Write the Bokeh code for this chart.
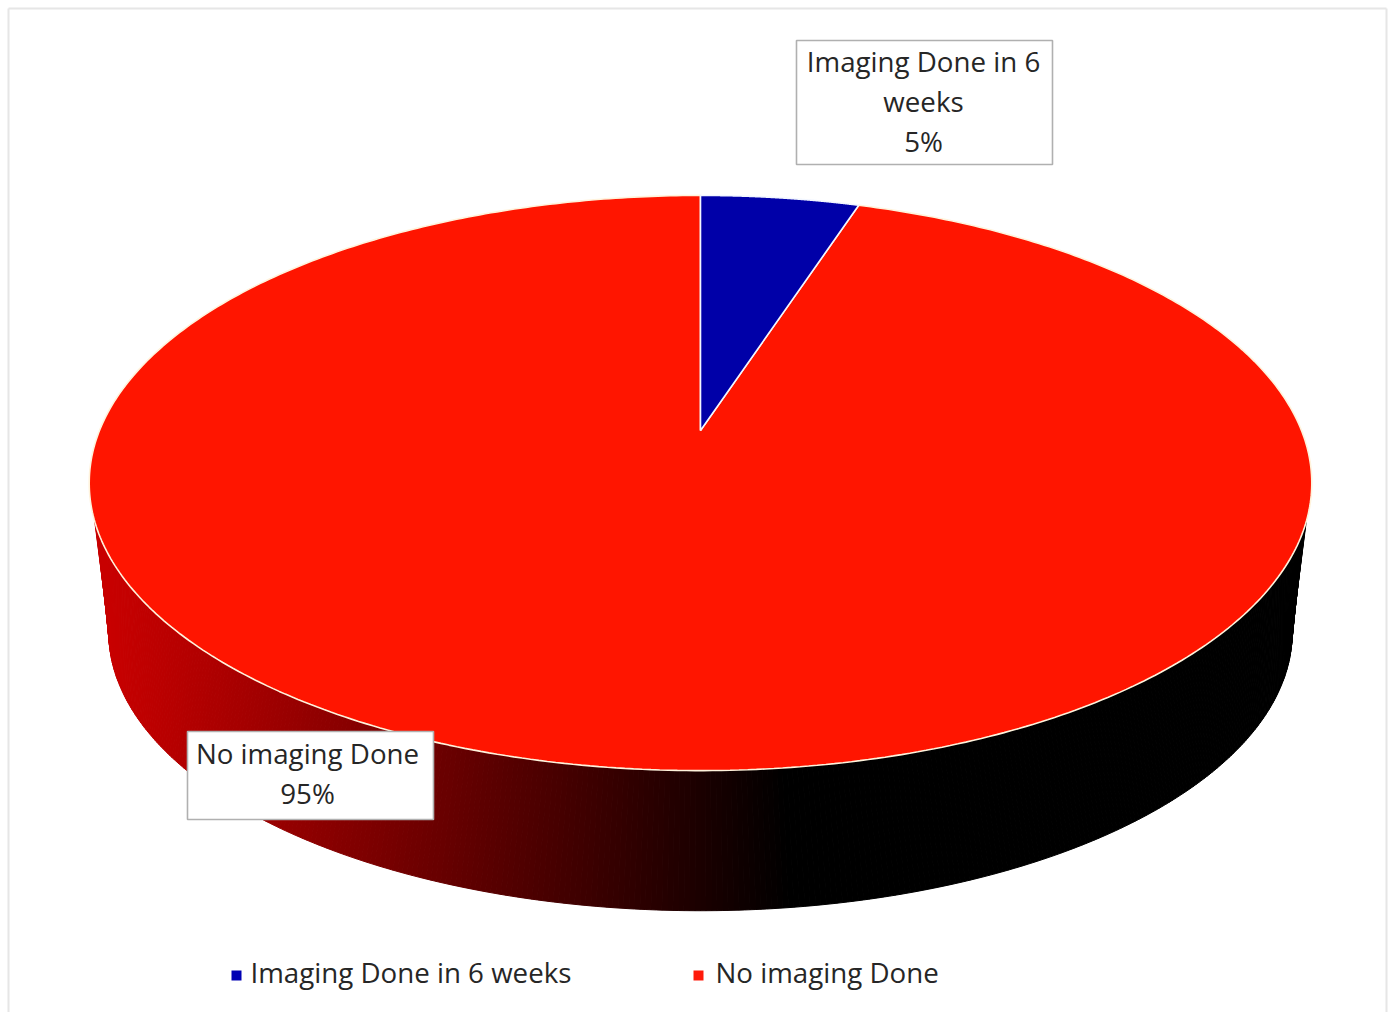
import numpy as np
from bokeh.core.properties import value
from bokeh.embed import file_html
from bokeh.models import Range1d
from bokeh.plotting import figure
from bokeh.resources import INLINE

categories = ["Imaging Done in 6 weeks", "No imaging Done"]
shares = [5, 95]
slice_colors = ["#0000a8", "#ff1500"]
legend_colors = ["#0000b4", "#ff1a0a"]
callout_lines = [["Imaging Done in 6", "weeks", "5%"], ["No imaging Done", "95%"]]

FONT = "Open Sans"
TEXT_COLOR = "#262626"

CX, APEX_Y, RX, RY, TILT = 700.0, 430.0, 601.0, 278.0, 0.1826
WALL_SCALE, WALL_APEX_Y = 0.968, 581.0
WALL_TOP_START = np.radians(108.0)
WALL_BOTTOM_START = np.radians(100.0)


def project(theta, scale=1.0, apex_y=APEX_Y):
    w = 1 + TILT * np.cos(theta)
    return CX + scale * RX * np.sin(theta) / w, apex_y - scale * RY * np.cos(theta) / w


p = figure(
    width=1389, height=1012, output_backend="svg", toolbar_location=None,
    x_range=Range1d(0, 1389), y_range=Range1d(1012, 0),
    min_border=0, outline_line_color=None, background_fill_color="white",
)
p.axis.visible = False
p.grid.visible = False

# frame of the picture
p.segment([8, 8, 1386], [1012, 8, 8], [8, 1386, 1386], [8, 8, 1012], line_color="#e6e6e6", line_width=2)

# side wall, split in thin strips to carry the dark-red to black shading
top_edges = np.linspace(WALL_TOP_START, 2 * np.pi - WALL_TOP_START, 361)
bottom_edges = np.linspace(WALL_BOTTOM_START, 2 * np.pi - WALL_BOTTOM_START, 361)
xs, ys, colors = [], [], []
for i in range(360):
    tx, ty = project(top_edges[i:i + 2])
    bx, by = project(bottom_edges[i:i + 2], WALL_SCALE, WALL_APEX_Y)
    xs.append([tx[0], tx[1], bx[1], bx[0]])
    ys.append([ty[0], ty[1], by[1], by[0]])
    mid = (bx[0] + bx[1]) / 2
    level = max(0.0, min(1.0, (790 - mid) / 680))
    colors.append("#%02x0000" % int(round(200 * level)))
p.patches(xs, ys, fill_color=colors, line_color=colors, line_width=1)

# top face, each slice from its share
stops = np.cumsum([0] + shares) / sum(shares) * 2 * np.pi
for i in [1, 0]:
    arc = np.linspace(stops[i], stops[i + 1], 500)
    x, y = project(arc)
    p.patch(np.r_[CX, x], np.r_[APEX_Y, y], fill_color=slice_colors[i],
            line_color="#fff3dc" if i else "#f2f6ff", line_width=1.6)

# callouts
boxes = [(796, 1052, 40, 164, 923, [60, 100, 140]), (187, 433, 731, 819, 307, [752, 792])]
for (l, r, t, b, cx, rows), lines in zip(boxes, callout_lines):
    p.quad(left=[l], right=[r], top=[t], bottom=[b], fill_color="white", line_color="#b0b0b0", line_width=1.6)
    p.text([cx] * len(lines), rows, text=lines, text_align="center", text_baseline="middle",
           text_font=value(FONT), text_font_size="27.7px", text_color=TEXT_COLOR)

# legend
legend_x = [236, 698]
legend_text_x = [250, 715]
p.scatter(legend_x, [975, 975], marker="square", size=10, fill_color=legend_colors, line_color=None)
p.text(legend_text_x, [971, 971], text=categories, text_align="left", text_baseline="middle",
       text_font=value(FONT), text_font_size="27.7px", text_color=TEXT_COLOR)

open("out.html", "w").write(file_html(p, INLINE))
